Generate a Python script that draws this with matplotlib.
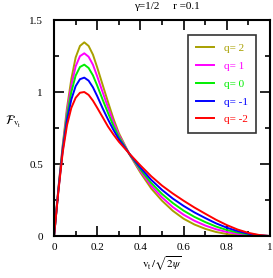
import matplotlib.pyplot as plt
from matplotlib.ticker import MultipleLocator

plt.rcParams['font.family'] = ['Liberation Serif', 'DejaVu Serif']
plt.rcParams['mathtext.fontset'] = 'stix'

# x grid (v_t / sqrt(2 psi)) and curves
v = [0, 0.02, 0.04, 0.06, 0.08, 0.1, 0.12, 0.14, 0.16, 0.18, 0.2, 0.225, 0.25, 0.275, 0.3,
     0.35, 0.4, 0.45, 0.5, 0.55, 0.6, 0.65, 0.7, 0.75, 0.8, 0.85, 0.9, 0.95, 1.0]

f_q2 = [0, 0.33, 0.63, 0.89, 1.09, 1.24, 1.32, 1.345, 1.32, 1.26, 1.17, 1.05, 0.93, 0.815, 0.715,
        0.565, 0.44, 0.33, 0.245, 0.175, 0.12, 0.08, 0.05, 0.028, 0.014, 0.006, 0.002, 0.0005, 0]
f_q1 = [0, 0.326, 0.619, 0.864, 1.046, 1.178, 1.249, 1.269, 1.245, 1.19, 1.108, 0.999, 0.893, 0.791, 0.702,
        0.566, 0.451, 0.349, 0.268, 0.201, 0.148, 0.106, 0.073, 0.047, 0.028, 0.015, 0.006, 0.002, 0]
f_q0 = [0, 0.321, 0.608, 0.836, 1.0, 1.114, 1.174, 1.19, 1.167, 1.116, 1.044, 0.947, 0.854, 0.765, 0.688,
        0.567, 0.462, 0.368, 0.292, 0.229, 0.176, 0.133, 0.097, 0.066, 0.042, 0.024, 0.011, 0.003, 0]
f_qm1 = [0, 0.316, 0.595, 0.805, 0.948, 1.041, 1.089, 1.10, 1.079, 1.033, 0.971, 0.887, 0.809, 0.737, 0.672,
         0.569, 0.475, 0.39, 0.32, 0.26, 0.209, 0.164, 0.125, 0.088, 0.058, 0.034, 0.016, 0.005, 0]
f_qm2 = [0, 0.31, 0.58, 0.77, 0.89, 0.96, 0.995, 1.0, 0.98, 0.94, 0.89, 0.825, 0.76, 0.705, 0.655,
         0.57, 0.49, 0.415, 0.35, 0.295, 0.245, 0.198, 0.155, 0.113, 0.076, 0.045, 0.022, 0.007, 0]

curves = [f_q2, f_q1, f_q0, f_qm1, f_qm2]
labels = ['q= 2', 'q= 1', 'q= 0', 'q= -1', 'q= -2']
colors = ['#a8a000', '#ff00ff', '#00ee00', '#0000ff', '#ff0000']

fig = plt.figure(figsize=(2.73, 2.78), dpi=100)
ax = fig.add_axes([0.198, 0.151, 0.791, 0.777])

for y, lab, c in zip(curves, labels, colors):
    ax.plot(v, y, color=c, lw=1.4, label=lab)

ax.set_xlim(0, 1)
ax.set_ylim(0, 1.5)
ax.xaxis.set_major_locator(MultipleLocator(0.2))
ax.xaxis.set_minor_locator(MultipleLocator(0.1))
ax.yaxis.set_major_locator(MultipleLocator(0.5))
ax.yaxis.set_minor_locator(MultipleLocator(0.25))
ax.xaxis.set_major_formatter(plt.FuncFormatter(lambda x, p: '%g' % round(x, 2)))
ax.yaxis.set_major_formatter(plt.FuncFormatter(lambda x, p: '%g' % round(x, 2)))
ax.tick_params(which='both', direction='in', top=True, right=True, labelsize=8, width=1.2)
ax.tick_params(which='major', length=7)
ax.tick_params(which='minor', length=3.5)
ax.tick_params(axis='x', pad=5)
ax.tick_params(axis='y', pad=8)
for s in ax.spines.values():
    s.set_linewidth(1.5)

ax.set_xlabel(r'$\mathrm{v_t}\,/\sqrt{2\psi}$', fontsize=8, labelpad=2)
ax.set_ylabel(r'$\mathcal{F}_{\mathrm{v_t}}$', fontsize=9, rotation=0, labelpad=8)
ax.yaxis.set_label_coords(-0.19, 0.49)
fig.text(0.61, 0.975, r'γ=1/2     r =0.1', fontsize=8, ha='center', va='center')

leg = ax.legend(loc='upper right', bbox_to_anchor=(0.935, 0.93), borderaxespad=0, fontsize=8,
                frameon=True, fancybox=False, edgecolor='black', handlelength=1.6,
                handletextpad=0.9, labelspacing=0.72, borderpad=0.75)
leg.get_frame().set_linewidth(1.2)
for t, c in zip(leg.get_texts(), colors):
    t.set_color(c)

fig.savefig('out.png', dpi=100)
